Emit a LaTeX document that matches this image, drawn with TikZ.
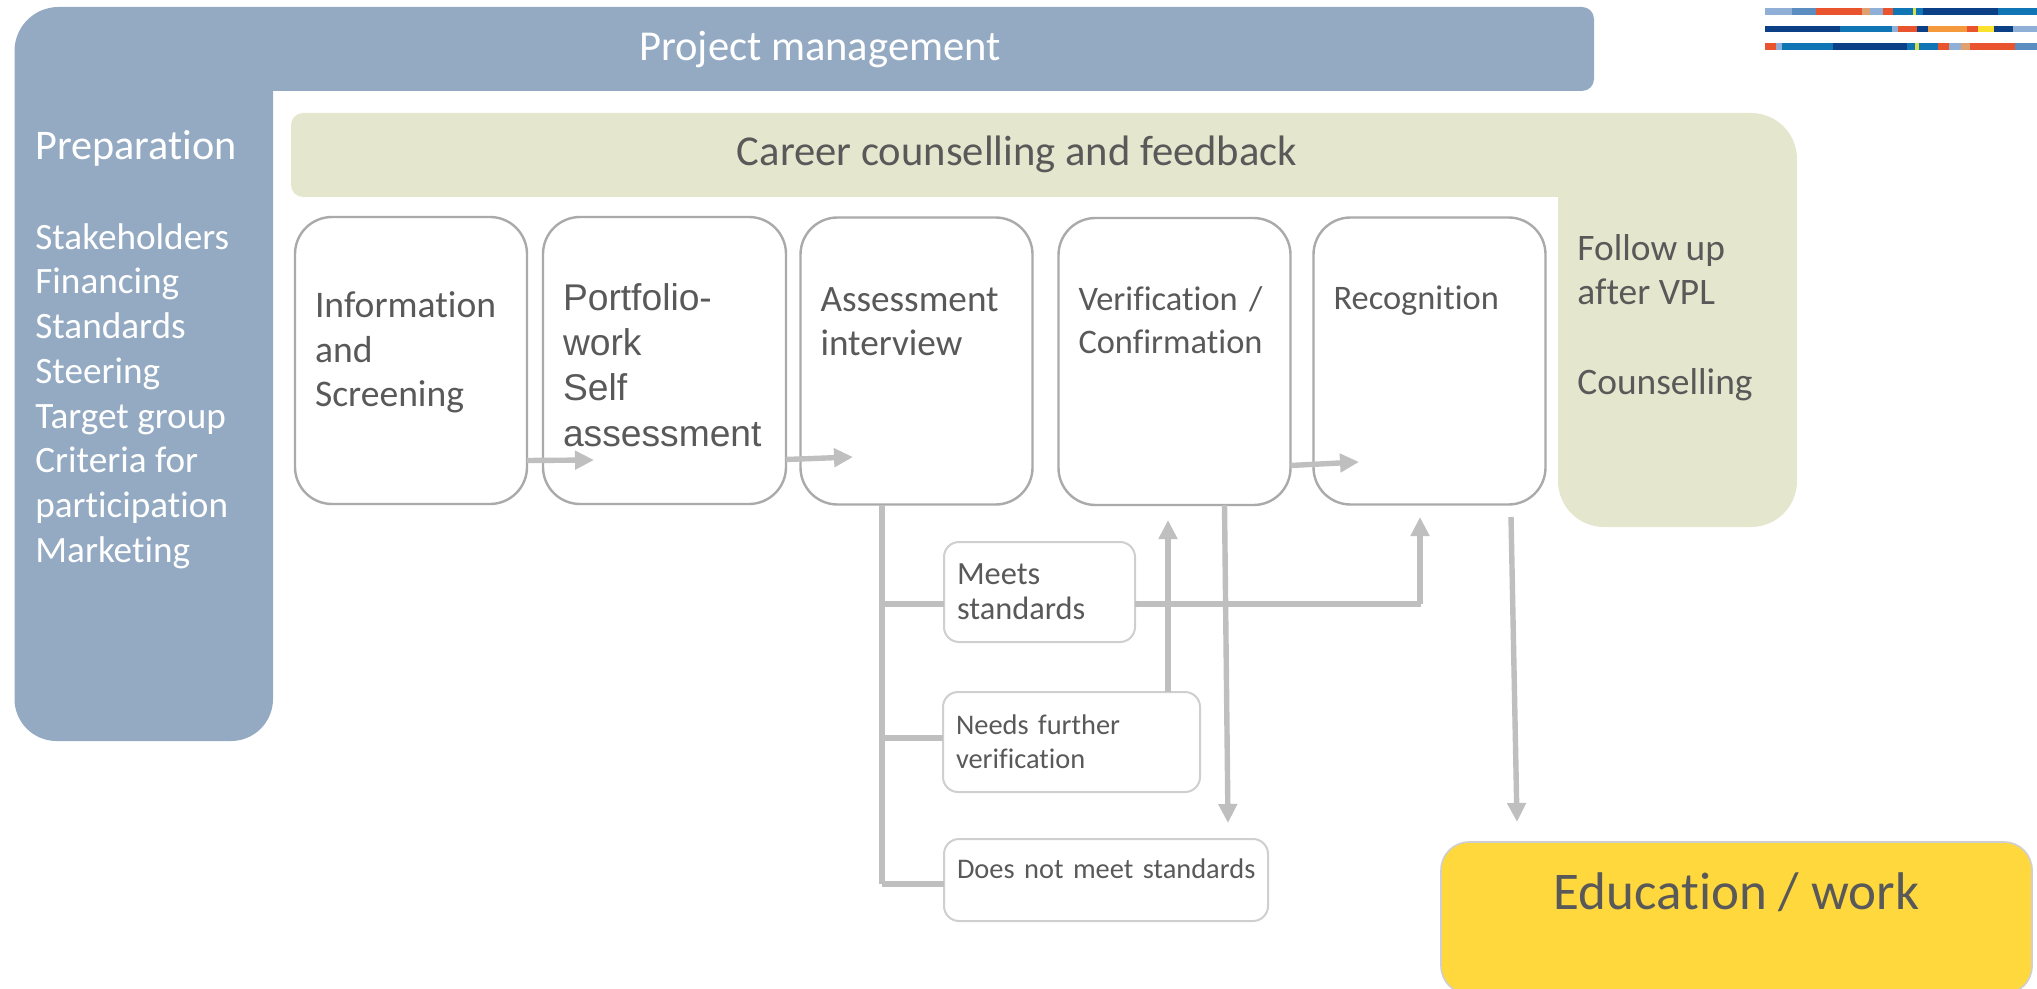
\documentclass[tikz,border=0pt]{standalone}
\usepackage{fontspec}
\setmainfont[Ligatures=NoCommon]{Carlito}
\newfontfamily\arialfont{Liberation Sans}
\usetikzlibrary{arrows.meta, positioning}
\definecolor{mgmtblue}{HTML}{94AAC3}
\definecolor{careergreen}{HTML}{E4E7CD}
\definecolor{eduyellow}{HTML}{FFD83D}
\definecolor{inktext}{HTML}{595959}
\definecolor{flowgrey}{HTML}{BFBFBF}
\definecolor{boxgrey}{HTML}{ABA9AA}
\definecolor{smallgrey}{HTML}{D0CECE}
\definecolor{lightbar}{HTML}{8FAFD6}
\definecolor{midbar}{HTML}{5B8DC0}
\definecolor{redbar}{HTML}{E9532D}
\definecolor{tanbar}{HTML}{E0A070}
\definecolor{bluebar}{HTML}{0F75B5}
\definecolor{navybar}{HTML}{0B3F86}
\definecolor{orangebar}{HTML}{F59A3C}
\definecolor{yellowbar}{HTML}{FCE22F}
\definecolor{limebar}{HTML}{D5E04A}
\tikzset{
    >={Triangle[width=9pt,length=9.5pt]},
    stepbox/.style={draw=boxgrey, line width=1.2pt, fill=white, rounded corners=18.5pt, align=left, text=inktext, inner xsep=10pt, inner ysep=0pt, outer sep=0pt, minimum height=143.5pt, font=\fontsize{18.8}{22.4}\selectfont},
    resultbox/.style={draw=smallgrey, line width=1pt, fill=white, rounded corners=7.5pt, align=left, text=inktext, inner xsep=6.5pt, inner ysep=0pt, outer sep=0pt, font=\fontsize{14.2}{17.4}\selectfont},
    whitetext/.style={text=white, align=left, inner sep=0pt},
    greytext/.style={text=inktext, align=left, inner sep=0pt},
    flow/.style={draw=flowgrey, line width=2.7pt},
    flowthick/.style={draw=flowgrey, line width=3.4pt}
}
\begin{document}
\begin{tikzpicture}[x=.5pt, y=-.5pt]
    \useasboundingbox (0,0) rectangle (2037,989);

    \fill[mgmtblue] (14.5,300) [rounded corners=22pt] -- (14.5,7) [sharp corners] -- (800,7) [rounded corners=6pt] -- (1594,7) -- (1594,91) [sharp corners] -- (273,91) [rounded corners=21pt] -- (273,741) -- (14.5,741) -- (14.5,300);
    \fill[careergreen] (900,113) [rounded corners=23pt] -- (1797,113) -- (1797,527) -- (1558,527) [sharp corners] -- (1558,197) [rounded corners=6pt] -- (291,197) -- (291,113) -- (900,113);

    \foreach \xa/\xb/\col in {1765/1792/lightbar, 1792/1816/midbar, 1816/1862/redbar, 1862/1870/tanbar, 1870/1883/lightbar, 1883/1893/redbar, 1893/1913/bluebar, 1913/1916/limebar, 1916/1923/bluebar, 1923/1998/navybar, 1998/2037/bluebar}
        \fill[\col] (\xa,8) rectangle (\xb,15);
    \foreach \xa/\xb/\col in {1765/1840/navybar, 1840/1892/bluebar, 1892/1898/lightbar, 1898/1917/redbar, 1917/1928/navybar, 1928/1967/orangebar, 1967/1978/redbar, 1978/1994/yellowbar, 1994/2013/navybar, 2013/2037/lightbar}
        \fill[\col] (\xa,26) rectangle (\xb,32);
    \foreach \xa/\xb/\col in {1765/1776/redbar, 1776/1782/lightbar, 1782/1833/bluebar, 1833/1907/navybar, 1907/1915/bluebar, 1915/1919/limebar, 1919/1938/bluebar, 1938/1949/redbar, 1949/1961/lightbar, 1961/1970/tanbar, 1970/2015/redbar, 2015/2037/midbar}
        \fill[\col] (\xa,43) rectangle (\xb,50);

    \node (mgmt) [whitetext, font=\fontsize{21.3}{25}\selectfont] at (820,50) {Project management};
    \node (prep) [whitetext, anchor=west, font=\fontsize{21.1}{25}\selectfont] at (35,148) {Preparation};
    \node (preplist) [whitetext, anchor=north west, font=\fontsize{18.6}{22.35}\selectfont] at (35,223) {Stakeholders\\Financing\\Standards\\Steering\\Target group\\Criteria for\\participation\\Marketing};
    \node (career) [greytext, font=\fontsize{21.3}{25}\selectfont] at (1017,154) {Career counselling and feedback};
    \node (followup) [greytext, anchor=north west, font=\fontsize{18.7}{22.3}\selectfont] at (1577,234) {Follow up\\after VPL\\[22.3pt]Counselling};

    \node (info) [stepbox, text width=96pt] at (411,360.5) {Information\\and\\Screening\\[-11pt]\mbox{}};
    \node (portfolio) [stepbox, text width=101.5pt, font=\arialfont\fontsize{18.6}{22.7}\selectfont] at (664.5,360.5) {Portfolio-\\work\\Self\\assessment\\[-27pt]\mbox{}};
    \node (assess) [stepbox, text width=96pt, font=\fontsize{18.6}{22.1}\selectfont] at (916.5,361) {Assessment\\interview\\[17pt]\mbox{}};
    \node (verif) [stepbox, text width=96pt, font=\fontsize{17.2}{21.5}\selectfont] at (1174.5,361.5) {Verification /\\Confirmation\\[19.5pt]\mbox{}};
    \node (recog) [stepbox, text width=96pt, font=\fontsize{17.2}{21.5}\selectfont] at (1429.5,361) {Recognition\\[42pt]\mbox{}};

    \node (meets) [resultbox, text width=82.5pt, minimum height=50pt, font=\fontsize{16.2}{17.4}\selectfont] at (1039.5,592) {Meets\\standards\\[-17pt]\mbox{}};
    \node (needs) [resultbox, text width=115.5pt, minimum height=50pt] at (1071.5,742) {Needs further\\verification\\[-17pt]\mbox{}};
    \node (nomeet) [resultbox, text width=149pt, minimum height=41pt] at (1106,880) {\mbox{Does not meet standards}\\[-6.4pt]\mbox{}};
    \node (edu) [draw=smallgrey, line width=.8pt, fill=eduyellow, rounded corners=14pt, align=center, text=inktext, outer sep=0pt, inner sep=0pt, minimum width=295.5pt, minimum height=76pt, font=\fontsize{26.5}{31}\selectfont] at (1736.5,918) {Education / work\\[-4pt]\mbox{}};

    \coordinate (portin) at (594,460);
    \coordinate (assessin) at (853,457);
    \coordinate (recogin) at (1359,462);
    \coordinate (trunkend) at (882,884);
    \coordinate (meetscorner) at (1421,604);
    \coordinate (needsjoin) at (943,738);
    \coordinate (recogup) at (1420,517);
    \coordinate (verifup) at (1168,520);
    \coordinate (nomeetdown) at (1228,823);
    \coordinate (edustart) at (1511,517);
    \coordinate (edudown) at (1517,822);

    \draw [flow, ->] ([yshift=-50pt]info.east) -- (portin);
    \draw [flow, ->] ([yshift=-49.5pt]portfolio.east) -- (assessin);
    \draw [flow, ->] ([yshift=-52pt]verif.east) -- (recogin);

    \draw [flow] (assess.south -| trunkend) -- (trunkend);
    \draw [flowthick] (trunkend) -- (nomeet.west |- trunkend);
    \draw [flowthick] (trunkend |- meetscorner) -- (meets.west |- meetscorner);
    \draw [flowthick] (trunkend |- needsjoin) -- (needsjoin);
    \draw [flowthick] (meets.east |- meetscorner) -- (meetscorner);
    \draw [flow, ->] (meetscorner -| recogup) -- (recogup);
    \draw [flow, ->] (needs.north -| verifup) -- (verifup);
    \draw [flow, ->] ([xshift=25pt]verif.south) -- (nomeetdown);
    \draw [flow, ->] (edustart) -- (edudown);
\end{tikzpicture}
\end{document}
